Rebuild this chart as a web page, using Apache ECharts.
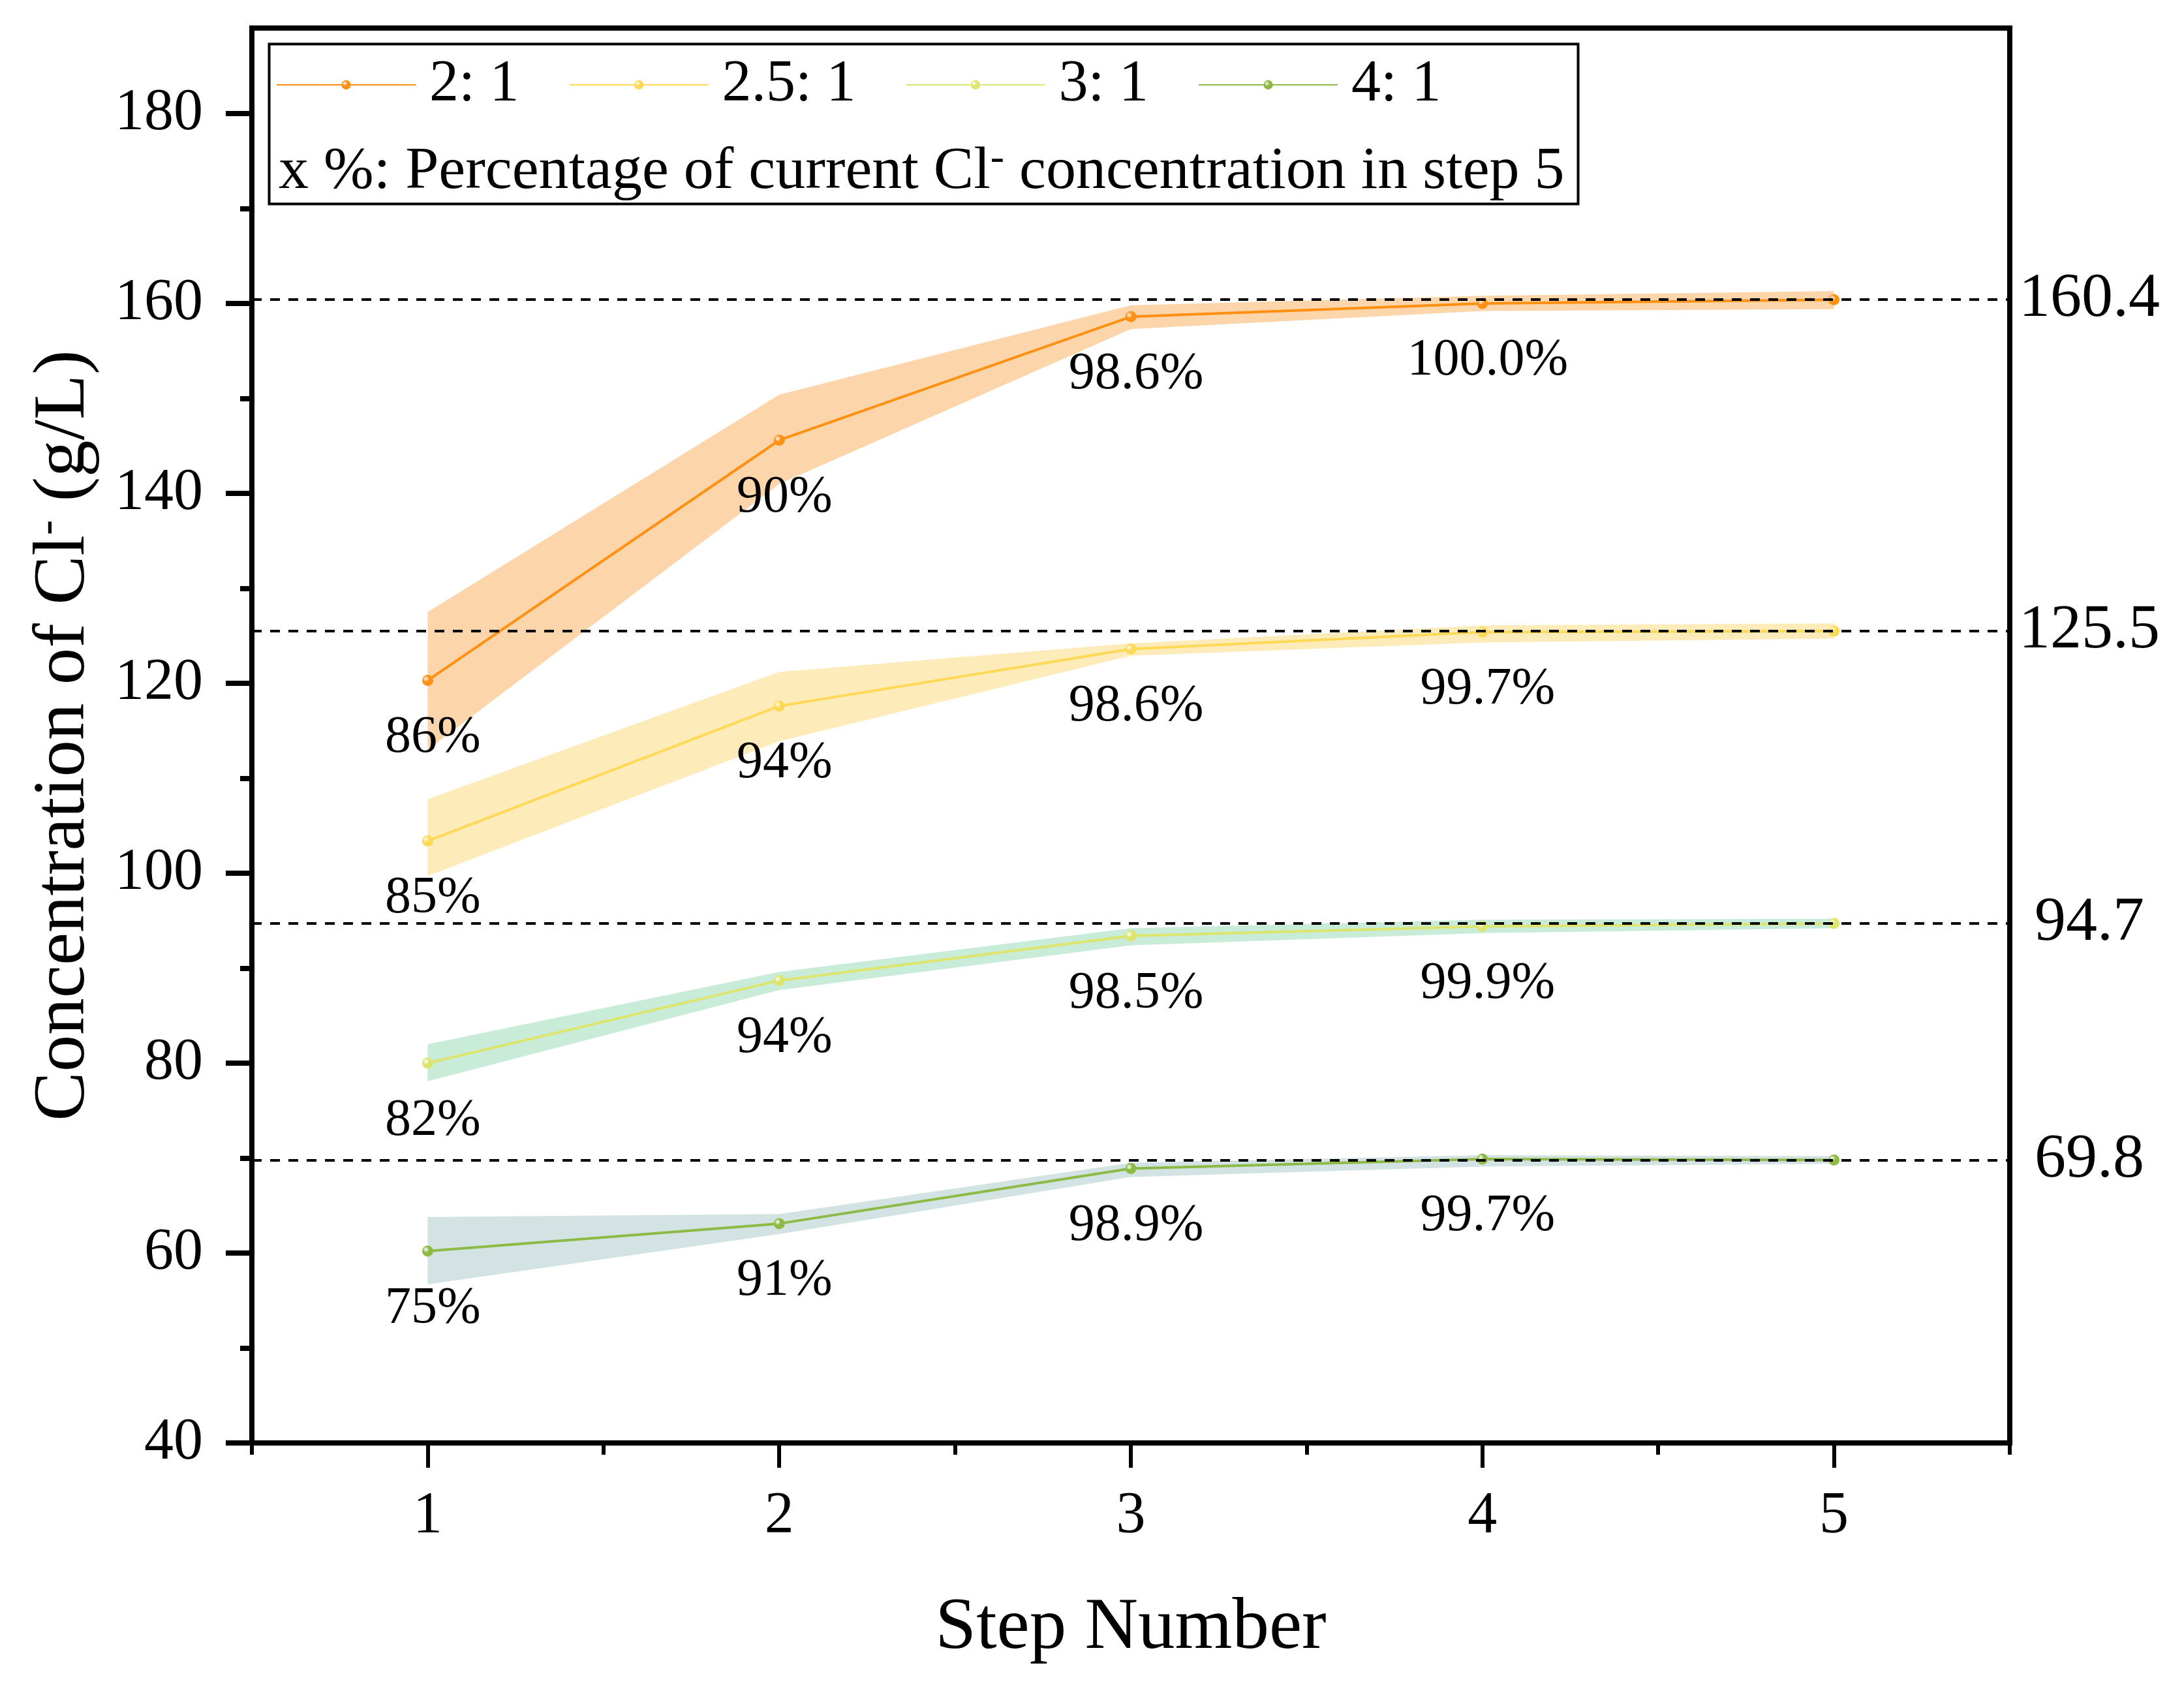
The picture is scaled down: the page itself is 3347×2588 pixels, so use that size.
<!DOCTYPE html>
<html>
<head>
<meta charset="utf-8">
<script src="https://cdn.jsdelivr.net/npm/echarts@6/dist/echarts.min.js"></script>
<style>
html,body{margin:0;padding:0;background:#fff;}
#chart{width:3347px;height:2588px;}
</style>
</head>
<body>
<div id="chart"></div>
<script>
// ---- data ----
const steps = ['1', '2', '3', '4', '5'];
const ratioNames = ['2: 1', '2.5: 1', '3: 1', '4: 1'];

const c21   = [120.3, 145.6, 158.6, 160.0, 160.4];
const c21Lo = [113.0, 141.0, 157.3, 159.2, 159.4];
const c21Hi = [127.5, 150.4, 159.8, 160.8, 161.3];

const c25   = [103.4, 117.6, 123.6, 125.4, 125.5];
const c25Lo = [99.7, 113.9, 122.9, 124.3, 124.7];
const c25Hi = [107.8, 121.2, 124.2, 126.1, 126.3];

const c31   = [80.0, 88.7, 93.4, 94.4, 94.7];
const c31Lo = [78.1, 87.7, 92.4, 93.7, 94.2];
const c31Hi = [82.0, 89.6, 94.2, 95.1, 95.2];

const c41   = [60.2, 63.1, 68.9, 69.9, 69.8];
const c41Lo = [56.7, 62.0, 68.0, 69.1, 69.4];
const c41Hi = [63.8, 64.1, 69.5, 70.3, 70.2];

const p21 = ['86%', '90%', '98.6%', '100.0%', ''];
const p25 = ['85%', '94%', '98.6%', '99.7%', ''];
const p31 = ['82%', '94%', '98.5%', '99.9%', ''];
const p41 = ['75%', '91%', '98.9%', '99.7%', ''];

const refValues = [160.4, 125.5, 94.7, 69.8];

const yMajorTicks = [40, 60, 80, 100, 120, 140, 160, 180];
const yMinorTicks = [50, 70, 90, 110, 130, 150, 170];

// ---- styling ----
const FONT = "'Liberation Serif', 'Times New Roman', serif";
const lineColors = ['#FF9012', '#FFD955', '#DDE56E', '#8DBA45'];
const bandColors = ['#FDD5AA', '#FDECBA', '#C9ECD8', '#D3E3E3'];

const groups = [
  {mid: c21, lo: c21Lo, hi: c21Hi, pct: p21},
  {mid: c25, lo: c25Lo, hi: c25Hi, pct: p25},
  {mid: c31, lo: c31Lo, hi: c31Hi, pct: p31},
  {mid: c41, lo: c41Lo, hi: c41Hi, pct: p41}
];

const chart = echarts.init(document.getElementById('chart'), null, {renderer: 'canvas'});

const series = [];
// reference dashed lines (behind everything)
series.push({
  type: 'line', name: 'ref', data: [], z: 1, silent: true,
  markLine: {
    silent: true, symbol: 'none', animation: false,
    lineStyle: {color: '#000', type: [15, 13], width: 4},
    label: {position: 'end', align: 'center', distance: 122, fontSize: 96,
            fontFamily: FONT, color: '#000', formatter: p => p.value.toFixed(1)},
    data: refValues.map(v => ({yAxis: v}))
  }
});

groups.forEach((g, i) => {
  const stackName = 'band' + i;
  series.push({
    type: 'line', name: 'lo' + i, stack: stackName, data: g.lo, z: 2,
    symbol: 'none', silent: true, lineStyle: {opacity: 0}
  });
  series.push({
    type: 'line', name: 'hi' + i, stack: stackName, z: 2,
    data: g.hi.map((v, k) => +(v - g.lo[k]).toFixed(3)),
    symbol: 'none', silent: true, lineStyle: {opacity: 0},
    areaStyle: {color: bandColors[i], opacity: 1}
  });
});

groups.forEach((g, i) => {
  series.push({
    type: 'line', name: ratioNames[i], data: g.mid, z: 3,
    symbol: 'circle', symbolSize: 17,
    lineStyle: {color: lineColors[i], width: 4},
    itemStyle: {
      color: new echarts.graphic.RadialGradient(0.35, 0.35, 0.65, [
        {offset: 0, color: '#ffffff'},
        {offset: 0.45, color: lineColors[i]},
        {offset: 1, color: lineColors[i]}
      ])
    },
    label: {
      show: true, position: 'bottom', distance: 40, offset: [8, 0],
      fontSize: 80, fontFamily: FONT, color: '#000',
      formatter: p => g.pct[p.dataIndex]
    }
  });
});

const option = {
  animation: false,
  backgroundColor: '#fff',
  grid: {left: 386, right: 267, top: 43, bottom: 377, show: true,
         borderColor: '#000', borderWidth: 8, backgroundColor: 'transparent'},
  legend: {
    data: ratioNames, left: 423, top: 80, padding: 0,
    itemWidth: 213, itemHeight: 18, itemGap: 76,
    textStyle: {fontSize: 90, fontFamily: FONT, color: '#000', lineHeight: 100, padding: [0, 0, 0, 16]}
  },
  xAxis: [
    {
      type: 'category', data: steps, position: 'bottom', boundaryGap: true,
      name: 'Step Number', nameLocation: 'middle', nameGap: 228,
      nameTextStyle: {fontSize: 113, fontFamily: FONT, color: '#000'},
      axisLine: {lineStyle: {color: '#000', width: 8}},
      axisTick: {show: true, length: 18, lineStyle: {color: '#000', width: 6}},
      axisLabel: {show: false},
      splitLine: {show: false}
    },
    {
      type: 'category', data: steps, position: 'bottom', boundaryGap: true,
      axisLine: {show: false},
      axisTick: {show: true, alignWithLabel: true, length: 38, lineStyle: {color: '#000', width: 6}},
      axisLabel: {show: true, margin: 68, fontSize: 90, fontFamily: FONT, color: '#000'},
      splitLine: {show: false}
    }
  ],
  yAxis: [
    {
      type: 'value', min: 40, max: 189, position: 'left',
      name: 'Concentration of Cl{sup|-} (g/L)', nameLocation: 'middle', nameGap: 230,
      nameTextStyle: {fontSize: 113, fontFamily: FONT, color: '#000',
        rich: {sup: {fontSize: 70, fontFamily: FONT, color: '#000', verticalAlign: 'top', padding: [0, 0, 46, 0]}}},
      axisLine: {show: true, lineStyle: {color: '#000', width: 8}},
      axisTick: {show: true, length: 40, customValues: yMajorTicks, lineStyle: {color: '#000', width: 8}},
      axisLabel: {show: true, margin: 75, customValues: yMajorTicks, fontSize: 90, fontFamily: FONT, color: '#000'},
      splitLine: {show: false}
    },
    {
      type: 'value', min: 40, max: 189, position: 'left',
      axisLine: {show: false},
      axisTick: {show: true, length: 18, customValues: yMinorTicks, lineStyle: {color: '#000', width: 8}},
      axisLabel: {show: false},
      splitLine: {show: false}
    }
  ],
  graphic: [
    {type: 'rect', left: 410, top: 65, z: 10,
     shape: {width: 2006, height: 245},
     style: {fill: 'none', stroke: '#000', lineWidth: 4}},
    {type: 'text', left: 427, top: 212, z: 10,
     style: {text: 'x %: Percentage of current Cl{sup|-} concentration in step 5',
             font: '92px ' + FONT, fill: '#000',
             rich: {sup: {fontSize: 64, fontFamily: FONT, fill: '#000', verticalAlign: 'top', padding: [0, 0, 40, 0]}}}}
  ],
  series: series
};

chart.setOption(option);
</script>
</body>
</html>
